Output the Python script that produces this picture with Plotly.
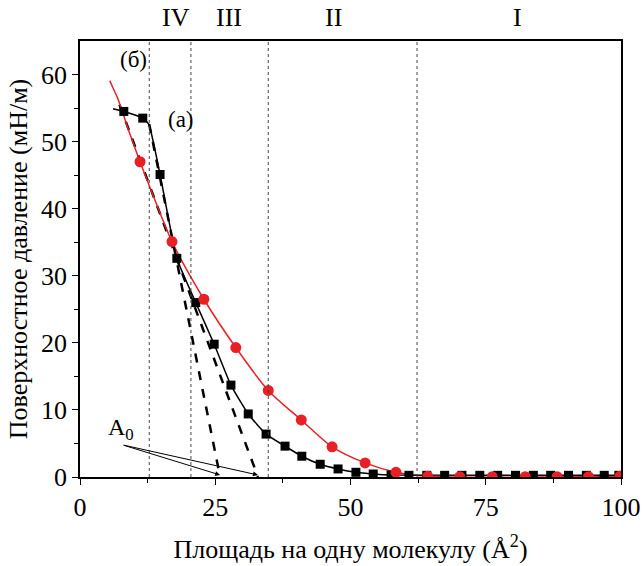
import plotly.graph_objects as go

# Black squares (a)
a_x = [8.1, 11.6, 14.8, 17.9, 21.4, 24.8, 27.9, 31.1, 34.4, 37.9, 41.0, 44.4, 47.7, 51.0, 54.2,
       57.5, 60.8, 64.1, 67.4, 70.6, 73.9, 77.2, 80.5, 83.8, 87.0, 90.3, 93.6, 96.9, 99.6]
a_y = [54.5, 53.5, 45.1, 32.6, 26.0, 19.8, 13.7, 9.4, 6.4, 4.6, 3.1, 1.9, 1.2, 0.7, 0.45,
       0.3, 0.25, 0.25, 0.25, 0.25, 0.25, 0.25, 0.25, 0.25, 0.25, 0.25, 0.25, 0.25, 0.25]
# Black solid line (through squares, with start and corner points)
a_line_x = [6.1, 8.1, 11.6, 12.7, 14.8, 17.9, 21.4, 24.8, 27.9, 31.1, 34.4, 37.9, 41.0, 44.4, 47.7, 51.0, 54.2, 57.5, 100]
a_line_y = [54.9, 54.5, 53.5, 52.6, 45.1, 32.6, 26.0, 19.8, 13.7, 9.4, 6.4, 4.6, 3.1, 1.9, 1.2, 0.7, 0.45, 0.3, 0.25]

# Red circles (б)
b_x = [11.1, 17.0, 22.9, 28.8, 34.8, 40.9, 46.6, 52.7, 58.4, 64.3, 70.2, 76.2, 82.3, 88.2, 94.0, 99.8]
b_y = [47.0, 35.1, 26.5, 19.3, 12.9, 8.5, 4.5, 2.1, 0.7, 0.1, 0.05, 0.05, 0.05, 0.05, 0.05, 0.1]
b_line_x = [5.5, 6.1, 7.0, 7.9, 9.2, 11.1, 13.5, 17.0, 22.9, 28.8, 34.8, 40.9, 46.6, 52.7, 58.4, 64.3, 100]
b_line_y = [59.1, 58.0, 56.4, 54.3, 51.2, 47.0, 42.0, 35.1, 26.5, 19.3, 12.9, 8.5, 4.5, 2.1, 0.7, 0.1, 0.1]

# Dashed tangent lines
t1_x = [12.8, 25.9]
t1_y = [52.6, 0.0]
t2_x = [7.3, 32.9]
t2_y = [55.5, 0.0]

# Region boundaries and labels
bound_x = [12.8, 20.5, 34.8, 62.3]
region_x = [17.7, 27.5, 46.8, 80.8]
region_txt = ["IV", "III", "II", "I"]

red = "rgb(232,32,38)"
serif = "Times New Roman, Liberation Serif, serif"
FS = 26

fig = go.Figure()
fig.add_trace(go.Scatter(x=t1_x, y=t1_y, mode="lines",
                         line=dict(color="black", width=2.5, dash="dash"), showlegend=False))
fig.add_trace(go.Scatter(x=t2_x, y=t2_y, mode="lines",
                         line=dict(color="black", width=2.5, dash="dash"), showlegend=False))
fig.add_trace(go.Scatter(x=b_line_x, y=b_line_y, mode="lines",
                         line=dict(color=red, width=1.5, shape="spline", smoothing=0.8), showlegend=False))
fig.add_trace(go.Scatter(x=a_line_x, y=a_line_y, mode="lines",
                         line=dict(color="black", width=1.5, shape="spline", smoothing=0.5), showlegend=False))
fig.add_trace(go.Scatter(x=a_x, y=a_y, mode="markers",
                         marker=dict(symbol="square", color="black", size=9), showlegend=False))
fig.add_trace(go.Scatter(x=b_x, y=b_y, mode="markers",
                         marker=dict(symbol="circle", color=red, size=11), showlegend=False))

for bx in bound_x:
    fig.add_shape(type="line", x0=bx, x1=bx, xref="x", yref="paper", y0=0, y1=1,
                  line=dict(color="#444", width=1, dash="dot"))

for rx, rt in zip(region_x, region_txt):
    fig.add_annotation(x=rx, y=1.053, xref="x", yref="paper", text=rt, showarrow=False,
                       xanchor="center", yanchor="middle",
                       font=dict(family=serif, size=FS, color="black"))

fig.add_annotation(x=9.9, y=62.3, text="(б)", showarrow=False, xanchor="center", yanchor="middle",
                   font=dict(family=serif, size=23, color="black"))
fig.add_annotation(x=18.7, y=53.3, text="(a)", showarrow=False, xanchor="center", yanchor="middle",
                   font=dict(family=serif, size=23, color="black"))
fig.add_annotation(x=7.6, y=7.2, text="A<sub>0</sub>", showarrow=False, xanchor="center", yanchor="middle",
                   font=dict(family=serif, size=24, color="black"))
for tx in [25.9, 32.9]:
    fig.add_annotation(x=tx, y=0.3, ax=7.8, ay=4.8, axref="x", ayref="y", xref="x", yref="y",
                       text="", showarrow=True, arrowhead=2, arrowsize=1, arrowwidth=1,
                       arrowcolor="black")

axis_common = dict(showline=True, linecolor="black", linewidth=1.5, mirror=True,
                   ticks="outside", ticklen=6, tickwidth=1.2, tickcolor="black",
                   showgrid=False, zeroline=False, automargin=False,
                   tickfont=dict(family=serif, size=FS, color="black"))

fig.update_xaxes(range=[0, 100], tickvals=[0, 25, 50, 75, 100],
                 minor=dict(ticks="outside", ticklen=4, tickvals=[12.5, 37.5, 62.5, 87.5], tickcolor="black"),
                 title=dict(text="Площадь на одну молекулу (Å<sup>2</sup>)",
                            font=dict(family=serif, size=FS, color="black"), standoff=19),
                 **axis_common)
fig.update_yaxes(range=[0, 65], tickvals=[0, 10, 20, 30, 40, 50, 60],
                 minor=dict(ticks="outside", ticklen=4, tickvals=[5, 15, 25, 35, 45, 55], tickcolor="black"),
                 title=dict(text="Поверхностное давление (мН/м)",
                            font=dict(family=serif, size=FS, color="black"), standoff=6),
                 **axis_common)

fig.update_layout(width=643, height=566, margin=dict(l=80, r=22, t=41, b=89),
                  plot_bgcolor="white", paper_bgcolor="white", showlegend=False)

fig.write_html("out.html")
